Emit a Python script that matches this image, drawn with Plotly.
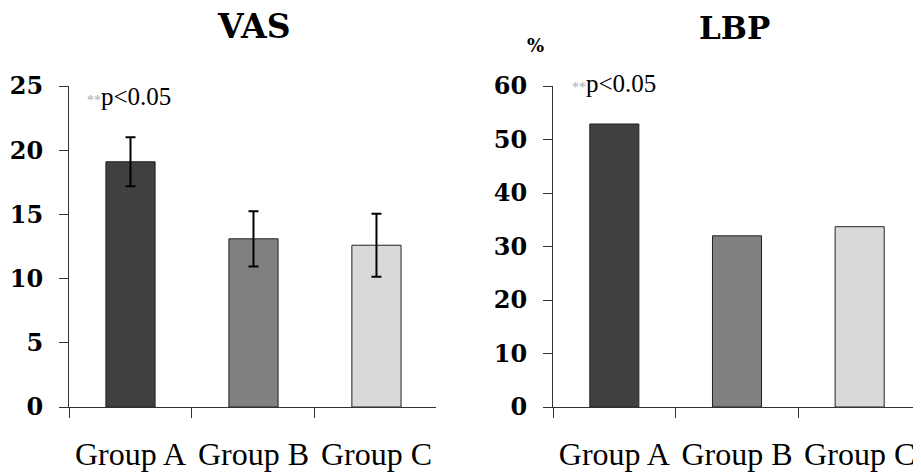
import plotly.graph_objects as go

categories = ["Group A", "Group B", "Group C"]
vas_values = [19.1, 13.1, 12.6]
vas_errors = [1.9, 2.15, 2.45]
lbp_values = [52.9, 32.0, 33.7]
bar_colors = ["#404040", "#808080", "#d9d9d9"]

# page body has an 8px margin; figure occupies 8..921 x 8..472
OFF = 8
W, H = 921 - OFF, 472 - OFF
def px(x): return (x - OFF) / W
def py(y): return 1 - (y - OFF) / H

serif = "Liberation Serif"
bserif = "DejaVu Serif"

fig = go.Figure()
fig.add_trace(go.Bar(
    x=categories, y=vas_values, width=0.4,
    marker=dict(color=bar_colors, line=dict(color="#222222", width=1)),
    error_y=dict(type="data", array=vas_errors, color="black", thickness=2, width=5),
    xaxis="x", yaxis="y", showlegend=False))
fig.add_trace(go.Bar(
    x=categories, y=lbp_values, width=0.4,
    marker=dict(color=bar_colors, line=dict(color="#222222", width=1)),
    xaxis="x2", yaxis="y2", showlegend=False))

ydom = [py(407), py(86)]
xcommon = dict(type="category", tickson="boundaries", ticks="outside", ticklen=10,
               tickcolor="#333333", showline=True, linecolor="#333333", linewidth=1,
               showgrid=False, zeroline=False, automargin=False, tickangle=0,
               tickfont=dict(family=serif, size=32, color="black"), ticklabelstandoff=19)
ycommon = dict(ticks="outside", ticklen=9, tickcolor="#333333", showline=True,
               linecolor="#333333", linewidth=1, showgrid=False, zeroline=False,
               automargin=False, domain=ydom,
               tickfont=dict(family=bserif, size=24, color="black", weight="bold"),
               ticklabelstandoff=11)

fig.update_layout(
    width=W, height=H, margin=dict(l=0, r=0, t=0, b=0),
    paper_bgcolor="white", plot_bgcolor="white", bargap=0.6,
    font=dict(family=serif),
    xaxis=dict(xcommon, domain=[px(69), px(435.5)], range=[-0.5, 2.48], anchor="y"),
    yaxis=dict(ycommon, range=[0, 25], dtick=5, anchor="x"),
    xaxis2=dict(xcommon, domain=[px(553), 1.0], range=[-0.5, 2.5], anchor="y2"),
    yaxis2=dict(ycommon, range=[0, 60], dtick=10, anchor="x2"),
)

stars = "<span style='font-size:14px;color:#aaaaaa'>**</span>"
ann = [
    dict(text="<b>VAS</b>", x=px(253), y=py(27), size=33, fam=bserif),
    dict(text="<b>LBP</b>", x=px(734), y=py(28), size=31, fam=bserif),
    dict(text="<b>%</b>", x=px(535), y=py(46), size=18, fam=bserif),
    dict(text=stars + "p&lt;0.05", x=px(129), y=py(97), size=25, fam=serif),
    dict(text=stars + "p&lt;0.05", x=px(614), y=py(83), size=25, fam=serif),
]
for a in ann:
    fig.add_annotation(text=a["text"], x=a["x"], y=a["y"], xref="paper", yref="paper",
                       showarrow=False, xanchor="center", yanchor="middle",
                       font=dict(family=a["fam"], size=a["size"], color="black"))

fig.write_html("out.html")
